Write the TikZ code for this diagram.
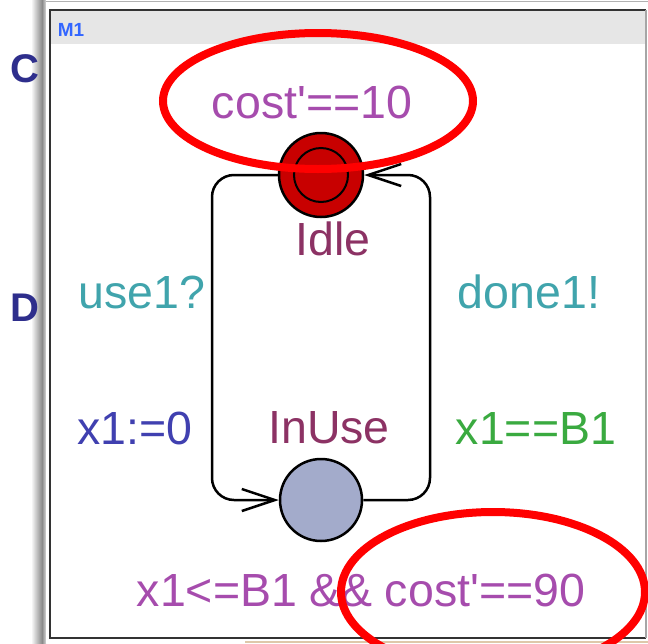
\documentclass[tikz,border=0pt]{standalone}
\usepackage{fontspec}
\setmainfont{Liberation Sans}[Ligatures=TeXOff]
\usetikzlibrary{arrows.meta}
\definecolor{shadowgray}{RGB}{138,138,138}
\definecolor{headgray}{RGB}{230,230,230}
\definecolor{idlered}{RGB}{200,0,0}
\definecolor{useblue}{RGB}{163,171,203}
\definecolor{locname}{RGB}{140,50,100}
\definecolor{ratepurple}{RGB}{166,76,173}
\definecolor{syncteal}{RGB}{64,164,172}
\definecolor{assignblue}{RGB}{64,64,176}
\definecolor{guardgreen}{RGB}{58,170,64}
\definecolor{navy}{RGB}{46,46,140}
\definecolor{mblue}{RGB}{51,102,255}
\definecolor{tan}{RGB}{222,200,170}
\tikzset{
  lbl/.style={font=\fontsize{46.5}{52}\selectfont, inner sep=0pt},
  side/.style={font=\fontsize{40}{46}\selectfont\bfseries, text=navy, inner sep=0pt},
  loc/.style={circle, draw=black, line width=2.5pt, minimum size=84pt, inner sep=0pt},
  edge/.style={draw=black, line width=2.5pt, rounded corners=22pt,
    -{Straight Barb[length=33pt,width=22pt,line width=2.5pt]}},
  hl/.style={draw=red, line width=8pt},
}
\begin{document}
\begin{tikzpicture}[x=1pt,y=-1pt]
\useasboundingbox (0,0) rectangle (648,643);
\clip (0,0) rectangle (648,643);
\fill[white] (0,0) rectangle (648,643);
% shadow strip
\shade[left color=white, right color=shadowgray] (31,0) rectangle (42,643);
\shade[left color=shadowgray, right color=white!85!black] (42,0) rectangle (46,643);
% side letters
\node[side] (C) at (25,69) {C};
\node[side] (D) at (25,308) {D};
\fill[white] (46,0) rectangle (648,643);
\draw[gray!60, line width=1pt] (46,1) -- (648,1);
% panel
\fill[white] (50,10) rectangle (646,638);
\fill[headgray] (50,11) rectangle (646,44);
\draw[black!80, line width=1.5pt] (646,10) -- (50,10) -- (50,638) -- (646,638);
\draw[gray!70, line width=1.5pt] (646,10) -- (646,638);
\fill[tan] (245,641) rectangle (648,643);
\node[font=\fontsize{19}{22}\selectfont\bfseries, text=mblue, inner sep=0pt] (m1) at (71,30) {M1};
% locations
\node[loc, fill=idlered] (idle) at (321,175) {};
\draw[black, line width=2pt] (idle.center) circle[radius=27pt];
\node[loc, fill=useblue, minimum size=82pt] (inuse) at (321,500) {};
\node[lbl, text=locname] (idlelbl) at (333,239) {Idle};
\node[lbl, text=locname] (inuselbl) at (329,428) {InUse};
% edges
\coordinate (lt) at (212,175);
\coordinate (lb) at (212,500);
\coordinate (rb) at (430,500);
\coordinate (rt) at (430,175);
\draw[edge] (idle.west) -- (lt) -- (lb) -- (inuse.west);
\draw[edge] (inuse.east) -- (rb) -- (rt) -- (idle.east);
% labels
\node[lbl, text=ratepurple] (rate1) at (312,102) {cost'==10};
\node[lbl, text=syncteal] (sync1) at (142,292) {use1?};
\node[lbl, text=assignblue] (assign1) at (135,428) {x1:=0};
\node[lbl, text=syncteal] (sync2) at (529,292) {done1!};
\node[lbl, text=guardgreen] (guard1) at (536,428) {x1==B1};
\node[lbl, text=ratepurple] (inv1) at (361,590) {x1<=B1 \&\& cost'==90};
% highlights
\draw[hl] (318,101) ellipse [x radius=155pt, y radius=68pt];
\draw[hl] (493,592) ellipse [x radius=152pt, y radius=80pt];
\end{tikzpicture}
\end{document}
